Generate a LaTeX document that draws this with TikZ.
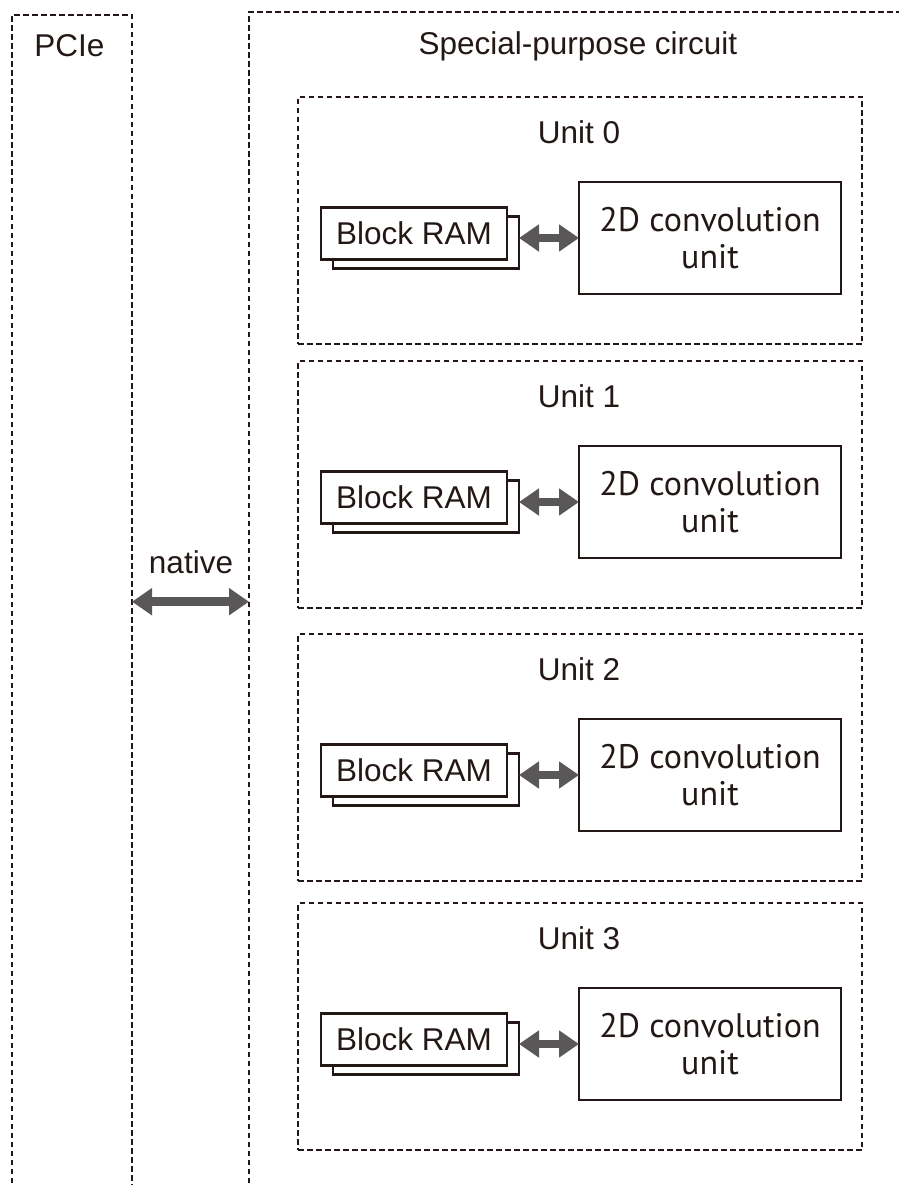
\documentclass[tikz,border=0pt]{standalone}
\usepackage{fontspec}
\setmainfont{Liberation Sans}
\newfontfamily\convfont{PT Sans}
\usetikzlibrary{arrows.meta}
\definecolor{ink}{HTML}{231815}
\definecolor{arrowgray}{HTML}{595757}
\begin{document}
\begin{tikzpicture}[x=1pt,y=-1pt,
  dotline/.style={draw=ink, line width=2.7pt, dash pattern=on 5.5pt off 3.5pt},
  unitbox/.style={dotline, minimum width=564pt, minimum height=247pt, inner sep=0pt, outer sep=0pt},
  solidbox/.style={draw=ink, fill=white, line width=2.4pt, inner sep=0pt, outer sep=0pt, text=ink},
  rambox/.style={solidbox, minimum width=186pt, minimum height=52pt, text height=22.2pt, text depth=0pt, font=\fontsize{31.5}{37}\selectfont},
  convbox/.style={solidbox, minimum width=262pt, minimum height=112pt, align=center, font=\convfont\fontsize{34}{37}\selectfont},
  lbl/.style={text=ink, inner sep=0pt, anchor=base, font=\fontsize{31.5}{37}\selectfont},
  biarrow/.style={draw=arrowgray, line width=8.5pt, {Triangle[width=26pt,length=20pt]}-{Triangle[width=26pt,length=20pt]}}
]
\useasboundingbox (0,0) rectangle (898,1185);
% PCIe region
\draw[dotline] (12,1192) -- (12,15) -- (132,15) -- (132,1192);
\node[lbl] (pcie) at (69.5,57) {PCIe};
% Special-purpose circuit region
\draw[dotline] (249,1192) -- (249,12) -- (902,12);
\node[lbl] (spc) at (578,55) {Special-purpose circuit};
% native link
\coordinate (pcieR) at (132,601.7);
\coordinate (spL) at (249,601.7);
\draw[biarrow] (pcieR) -- (spL);
\node[lbl] (native) at (191,573) {native};
% units
\foreach \i/\T in {0/97,1/361,2/634,3/903}{
  \node[unitbox] (u\i) at (580,\T+123.5) {};
  \node[lbl] (ul\i) at (579,\T+46.5) {Unit \i};
  \node[rambox] (ramb\i) at (426,\T+145.5) {};
  \node[rambox] (ramf\i) at (414,\T+136.5) {Block RAM};
  \node[convbox] (conv\i) at (710,\T+141) {2D convolution\\unit};
  \draw[biarrow] (ramb\i.east |- conv\i.west) -- (conv\i.west);
}
\end{tikzpicture}
\end{document}
